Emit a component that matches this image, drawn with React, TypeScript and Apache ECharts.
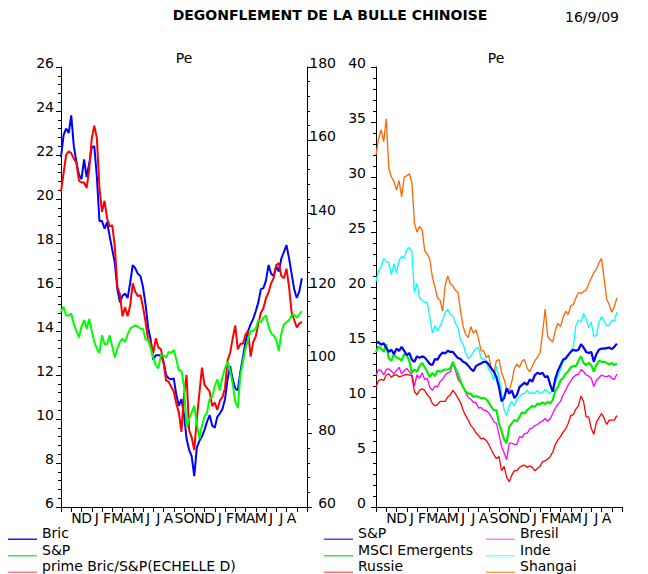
import React, { useEffect, useRef } from 'react';
import * as echarts from 'echarts';

// ---- axis categories / tick labels (Oct 2007 .. Sep 2009) ----
const monthCategories = [
  '2007-10', '2007-11', '2007-12', '2008-01', '2008-02', '2008-03', '2008-04', '2008-05',
  '2008-06', '2008-07', '2008-08', '2008-09', '2008-10', '2008-11', '2008-12', '2009-01',
  '2009-02', '2009-03', '2009-04', '2009-05', '2009-06', '2009-07', '2009-08', '2009-09',
];
const monthTickLabels = [
  '', 'N', 'D', 'J', 'F', 'M', 'A', 'M', 'J', 'J', 'A', 'S',
  'O', 'N', 'D', 'J', 'F', 'M', 'A', 'M', 'J', 'J', 'A', '',
];

// weekly samples (one value every quarter of a month, starting Oct 1 2007)
const SAMPLE_STEP_MONTHS = 0.25;

// ---- left chart (Pe) ----
const bric = [
  21.9, 22.9, 23.2, 23.0, 23.8, 22.4, 21.7, 21.1, 20.9, 21.8, 21.0, 21.6, 22.35, 22.4, 21.0, 19.0,
  19.0, 18.65, 18.95, 18.3, 17.7, 17.1, 15.9, 15.3, 15.6, 15.7, 15.5, 16.2, 17.0, 16.85, 16.6, 16.5,
  16.0, 15.2, 14.15, 13.6, 12.7, 12.9, 12.9, 12.9, 12.6, 12.0, 11.85, 11.8, 11.85, 11.1, 10.6, 10.9,
  10.2, 9.1, 8.6, 8.3, 7.4, 8.7, 9.0, 9.2, 9.5, 9.88, 10.18, 9.7, 9.6, 10.1, 10.25, 10.45,
  10.9, 11.8, 12.4, 11.8, 11.4, 11.3, 12.15, 12.8, 13.5, 14.0, 14.3, 14.55, 14.9, 15.3, 15.9, 15.95,
  16.3, 17.0, 16.6, 16.5, 16.95, 16.7, 17.3, 17.6, 17.9, 17.3, 16.6, 15.9, 15.5, 15.8, 16.4,
];
const spLeft = [
  14.9, 15.1, 14.7, 14.7, 14.8, 14.3, 14.0, 13.7, 14.2, 14.5, 14.1, 14.55, 14.0, 13.5, 13.2, 13.0,
  13.8, 13.4, 13.4, 13.8, 13.3, 12.8, 13.2, 13.5, 13.65, 13.5, 13.85, 14.1, 14.2, 14.25, 14.2, 14.1,
  14.1, 13.6, 13.6, 13.2, 12.8, 12.45, 12.3, 12.9, 12.9, 12.8, 13.05, 13.0, 13.14, 12.7, 12.2, 12.2,
  11.5, 9.6, 10.0, 10.3, 10.6, 9.8, 9.1, 9.7, 10.1, 10.3, 10.9, 11.0, 11.5, 11.8, 11.3, 11.9,
  12.3, 12.6, 12.2, 11.6, 10.8, 10.5, 12.0, 12.6, 13.2, 13.6, 14.0, 14.0, 14.1, 14.5, 14.4, 14.6,
  14.7, 14.2, 13.9, 13.8, 13.6, 13.1, 13.9, 14.3, 14.4, 14.5, 14.7, 14.75, 14.6, 14.75, 14.9,
];
const primeBricSp = [
  146, 151, 156, 157, 156.5, 155, 154, 149, 148.5, 148.5, 147, 152, 160.5, 164, 160.6, 147,
  140.5, 143.5, 138.7, 136.5, 136.9, 131, 120, 118, 112, 114.5, 112, 115, 121, 118.7, 117.5, 117.8,
  114.5, 110.5, 105.5, 105, 102, 106, 103.5, 103, 99.6, 94.5, 94.2, 92.8, 91.5, 88.2, 85.8, 80.5,
  90.6, 96, 81, 79, 75.5, 84, 91, 98, 93.3, 92.4, 91.5, 87.5, 88.5, 86.5, 89, 90,
  92.4, 100, 102, 106, 109.5, 103, 104.5, 104.5, 107, 108, 101, 105, 106.5, 110, 113, 114.2,
  117, 118.5, 121, 122.5, 126, 126.5, 123, 122.4, 125, 120, 113, 111, 109, 110, 110.5,
];

// ---- right chart (Pe) ----
const spRight = [
  14.9, 15.0, 14.75, 14.88, 14.45, 14.1, 14.3, 13.9, 14.4, 14.2, 14.55, 14.2, 13.8, 14.0, 13.4, 13.2,
  13.7, 13.55, 13.7, 13.6, 13.3, 13.0, 12.9, 13.45, 13.4, 13.8, 14.05, 13.95, 14.2, 14.1, 14.1, 13.8,
  13.55, 13.45, 13.2, 13.1, 12.85, 12.55, 12.35, 12.8, 12.95, 13.05, 13.2, 13.2, 12.95, 12.6, 12.3, 11.8,
  10.9, 9.6, 9.9, 10.8, 10.3, 10.6, 9.9, 10.2, 10.9, 11.1, 11.3, 11.1, 11.6, 11.4, 12.0, 12.2,
  12.1, 12.2, 11.8, 11.9, 11.1, 10.5, 11.7, 12.4, 12.9, 13.4, 13.5, 13.8, 14.1, 14.3, 14.2, 14.3,
  14.8, 14.5, 14.1, 14.0, 14.1, 13.2, 13.9, 14.3, 14.4, 14.4, 14.45, 14.5, 14.35, 14.55, 14.85,
];
const msciEmergents = [
  14.1, 14.6, 14.4, 14.1, 14.8, 13.5, 13.3, 13.9, 13.6, 13.5, 13.3, 13.9, 13.8, 13.3, 12.2, 12.5,
  12.3, 12.8, 13.1, 12.7, 12.3, 11.8, 12.2, 11.9, 12.4, 12.3, 12.4, 12.5, 12.5, 12.6, 13.2, 12.6,
  12.1, 11.4, 10.9, 10.5, 10.3, 10.3, 10.0, 10.1, 10.0, 9.9, 9.9, 9.8, 9.5, 9.1, 8.8, 8.8,
  7.6, 6.9, 6.1, 5.8, 7.3, 7.6, 7.9, 7.8, 8.2, 8.6, 8.5, 8.8, 9.0, 9.2, 9.1, 9.4,
  9.35, 9.5, 9.35, 9.55, 9.4, 9.75, 10.6, 10.9, 11.5, 11.75, 12.1, 12.35, 12.7, 12.8, 12.8, 13.3,
  13.7, 13.1, 12.9, 13.1, 12.9, 12.3, 12.9, 13.3, 13.2, 13.2, 13.1, 12.95, 13.1, 12.9, 13.05,
];
const russie = [
  10.9, 11.5, 11.6, 11.5, 12.0, 12.1, 11.8, 12.0, 12.0, 11.85, 11.9, 12.0, 12.05, 12.0, 11.9, 10.5,
  10.2, 10.6, 10.75, 10.6, 10.2, 9.95, 9.4, 9.2, 9.3, 9.6, 9.6, 9.6, 10.0, 10.2, 10.6, 10.3,
  9.9, 9.5, 8.8, 8.3, 7.9, 7.4, 7.15, 6.75, 6.5, 6.2, 6.25, 6.05, 5.7, 5.2, 4.75, 4.4,
  4.6, 3.3, 3.7, 2.7, 2.3, 2.9, 3.3, 3.3, 3.6, 3.75, 3.8, 3.6, 3.75, 3.6, 3.3, 3.5,
  3.7, 4.1, 4.2, 4.35, 4.6, 5.0, 5.7, 6.1, 6.4, 6.8, 7.1, 7.6, 8.3, 8.4, 8.9, 9.2,
  10.1, 9.6, 8.2, 8.2, 7.15, 6.6, 7.7, 8.1, 8.5, 8.1, 7.5, 7.9, 7.9, 7.9, 8.3,
];
const bresil = [
  12.0, 12.5, 12.4, 12.0, 12.5, 12.55, 12.35, 12.1, 12.4, 12.7, 12.1, 12.4, 12.6, 12.3, 12.0, 11.0,
  12.0, 11.7, 12.2, 11.6, 11.7, 10.9, 10.6, 11.0, 10.9, 11.4, 11.6, 12.0, 12.2, 12.3, 13.1, 12.4,
  11.6, 11.3, 10.9, 10.4, 9.95, 9.8, 9.5, 9.5, 9.0, 9.05, 8.8, 8.75, 8.55, 8.2, 7.75, 7.6,
  6.6, 5.5, 4.9, 4.3, 5.8, 5.8, 5.7, 5.7, 6.4, 6.3, 6.7, 6.7, 7.1, 7.2, 7.4, 7.5,
  7.7, 7.8, 8.05, 7.8, 8.05, 8.5, 9.0, 9.35, 9.6, 10.2, 10.6, 11.1, 11.45, 11.8, 12.0, 12.05,
  12.5, 12.3, 12.0, 11.9, 11.7, 10.95, 11.5, 11.75, 12.0, 11.9, 11.85, 11.95, 11.7, 11.6, 12.1,
];
const inde = [
  20.5, 21.5, 21.8, 22.6, 22.3, 22.2, 21.1, 22.1, 21.3, 22.4, 22.8, 22.6, 23.4, 23.6, 23.2, 19.5,
  20.3, 19.0, 18.8, 18.6, 18.6, 17.3, 15.8, 16.5, 16.0, 16.4, 17.0, 17.7, 18.0, 17.5, 17.4, 16.7,
  16.3, 15.1, 14.8, 14.0, 13.5, 13.7, 14.1, 14.4, 14.5, 13.5, 13.5, 13.3, 12.5, 12.2, 11.5, 12.8,
  11.8, 10.4, 8.8, 8.3, 9.2, 9.6, 9.2, 9.8, 10.0, 10.3, 10.3, 10.6, 10.3, 10.4, 10.3, 10.6,
  10.3, 10.4, 10.7, 10.5, 10.3, 10.8, 11.3, 11.9, 12.5, 13.2, 13.5, 13.9, 14.1, 14.6, 16.5, 17.0,
  16.8, 17.6, 17.1, 16.3, 16.8, 15.5, 15.6, 16.8, 17.3, 16.9, 16.5, 16.5, 17.0, 16.9, 17.7,
];
const shangai = [
  32.0, 33.5, 34.3, 33.2, 35.3, 30.8, 30.0, 29.6, 28.8, 29.7, 28.2, 30.0, 30.1, 30.3, 29.5, 25.8,
  25.0, 25.5, 25.2, 23.3, 23.0, 22.5, 20.9, 20.0, 19.0, 18.8, 17.8, 20.2, 21.0, 20.3, 20.1, 19.7,
  19.5, 17.8, 16.4, 15.7, 15.4, 16.4, 15.8, 16.1, 15.3, 14.2, 14.2, 13.6, 13.8, 12.5, 12.2, 13.3,
  13.4, 12.2, 11.6, 10.7, 10.6, 11.4, 12.6, 13.0, 12.7, 13.3, 13.4, 12.6, 12.3, 12.8, 13.3, 13.6,
  14.0, 15.8, 18.0, 15.5, 15.2, 15.0, 16.1, 16.7, 16.4, 17.2, 17.8, 17.5, 18.3, 18.4, 19.0, 19.5,
  19.4, 19.6, 19.7, 20.3, 20.8, 21.3, 21.6, 22.2, 22.6, 20.8, 18.9, 18.4, 17.7, 18.2, 19.0,
];

const FONT = 'DejaVu Sans';
const BLACK = '#000';

const toPoints = (vals: number[]) => vals.map((v, i) => [i * SAMPLE_STEP_MONTHS, v]);

const lineStyleAxis = { color: BLACK, width: 1 };

const monthAxis = (gridIndex: number) => ({
  type: 'category',
  gridIndex,
  data: monthCategories,
  boundaryGap: true,
  axisLine: { show: true, onZero: false, lineStyle: lineStyleAxis },
  axisTick: { show: true, interval: 0, length: 5, inside: false, lineStyle: lineStyleAxis },
  axisLabel: {
    interval: 0,
    formatter: (_v: string, i: number) => monthTickLabels[i],
    margin: 4,
    fontSize: 14,
    fontFamily: FONT,
    color: BLACK,
  },
  splitLine: { show: false },
});

const hiddenValueX = (gridIndex: number) => ({
  type: 'value',
  gridIndex,
  min: 0,
  max: 24,
  show: false,
  axisLine: { onZero: false },
  splitLine: { show: false },
});

const valueY = (
  gridIndex: number,
  position: 'left' | 'right',
  min: number,
  max: number,
  interval: number,
  margin: number,
  align?: string,
) => ({
  type: 'value',
  gridIndex,
  position,
  min,
  max,
  interval,
  axisLine: { show: true, onZero: false, lineStyle: lineStyleAxis },
  axisTick: { show: true, length: 5, inside: false, lineStyle: lineStyleAxis },
  minorTick: { show: true, splitNumber: 5, length: 3, lineStyle: lineStyleAxis },
  axisLabel: {
    margin,
    fontSize: 14,
    fontFamily: FONT,
    color: BLACK,
    verticalAlign: 'bottom',
    lineHeight: 8,
    ...(align ? { align } : {}),
  },
  splitLine: { show: false },
  minorSplitLine: { show: false },
});

const legendIcon = 'path://M0,0L0.01,0M0,12.4L29,12.4L29,14L0,14Z';

const legendBase = {
  orient: 'vertical',
  top: 526,
  padding: 0,
  itemWidth: 29,
  itemHeight: 14,
  itemGap: 2.5,
  icon: legendIcon,
  selectedMode: false,
  itemStyle: { borderWidth: 0 },
  textStyle: { fontSize: 14, fontFamily: FONT, color: BLACK, lineHeight: 14 },
};

const lineSeries = (
  name: string,
  vals: number[],
  xAxisIndex: number,
  yAxisIndex: number,
  color: string,
  width: number,
) => ({
  name,
  type: 'line',
  xAxisIndex,
  yAxisIndex,
  data: toPoints(vals),
  symbol: 'none',
  showSymbol: false,
  clip: true,
  silent: true,
  lineStyle: { color, width },
  itemStyle: { color },
  emphasis: { disabled: true },
});

const option = {
  animation: false,
  backgroundColor: '#fff',
  textStyle: { fontFamily: FONT },
  graphic: [
    {
      type: 'text',
      x: 330,
      y: 15,
      style: {
        text: 'DEGONFLEMENT DE LA BULLE CHINOISE',
        font: `bold 14px "${FONT}"`,
        fill: BLACK,
        align: 'center',
        verticalAlign: 'middle',
      },
    },
    {
      type: 'text',
      x: 592,
      y: 17,
      style: { text: '16/9/09', font: `14px "${FONT}"`, fill: BLACK, align: 'center', verticalAlign: 'middle' },
    },
    {
      type: 'text',
      x: 184,
      y: 58,
      style: { text: 'Pe', font: `14px "${FONT}"`, fill: BLACK, align: 'center', verticalAlign: 'middle' },
    },
    {
      type: 'text',
      x: 496,
      y: 58,
      style: { text: 'Pe', font: `14px "${FONT}"`, fill: BLACK, align: 'center', verticalAlign: 'middle' },
    },
  ],
  grid: [
    { left: 61, top: 67, width: 246, height: 440 },
    { left: 376, top: 67, width: 246, height: 440 },
  ],
  xAxis: [monthAxis(0), hiddenValueX(0), monthAxis(1), hiddenValueX(1)],
  yAxis: [
    valueY(0, 'left', 6, 26, 2, 7),
    valueY(0, 'right', 60, 180, 20, 29, 'right'),
    valueY(1, 'left', 0, 40, 5, 10),
  ],
  legend: [
    {
      ...legendBase,
      left: 8,
      data: [
        { name: 'Bric', itemStyle: { color: '#1a1aff' } },
        { name: 'S&P', itemStyle: { color: '#44e044' } },
        { name: 'prime Bric/S&P(ECHELLE D)', itemStyle: { color: '#ff7f7f' } },
      ],
    },
    {
      ...legendBase,
      left: 324,
      data: [
        { name: 'S&P', itemStyle: { color: '#4a4aee' } },
        { name: 'MSCI Emergents', itemStyle: { color: '#44dd44' } },
        { name: 'Russie', itemStyle: { color: '#ff7070' } },
      ],
    },
    {
      ...legendBase,
      left: 486,
      data: [
        { name: 'Bresil', itemStyle: { color: '#ff80ff' } },
        { name: 'Inde', itemStyle: { color: '#80ffff' } },
        { name: 'Shangai', itemStyle: { color: '#ffa060' } },
      ],
    },
  ],
  series: [
    // left chart
    lineSeries('Bric', bric, 1, 0, '#0000ff', 2),
    lineSeries('prime Bric/S&P(ECHELLE D)', primeBricSp, 1, 1, '#ff0000', 2),
    lineSeries('S&P', spLeft, 1, 0, '#00ff00', 2),
    // right chart
    lineSeries('Shangai', shangai, 3, 2, '#ff6600', 1.3),
    lineSeries('Inde', inde, 3, 2, '#00ffff', 1.3),
    lineSeries('Bresil', bresil, 3, 2, '#ff00ff', 1.3),
    lineSeries('Russie', russie, 3, 2, '#ff0000', 1.3),
    lineSeries('MSCI Emergents', msciEmergents, 3, 2, '#00ee00', 2.2),
    lineSeries('S&P', spRight, 3, 2, '#0000ff', 2.2),
  ],
};

export default function App() {
  const ref = useRef<HTMLDivElement>(null);
  useEffect(() => {
    if (!ref.current) return;
    const chart = echarts.init(ref.current, null, { renderer: 'svg' });
    chart.setOption(option as any);
    return () => chart.dispose();
  }, []);
  return (
    <div
      ref={ref}
      style={{ position: 'absolute', left: 0, top: 0, width: 648, height: 574, background: '#fff' }}
    />
  );
}
